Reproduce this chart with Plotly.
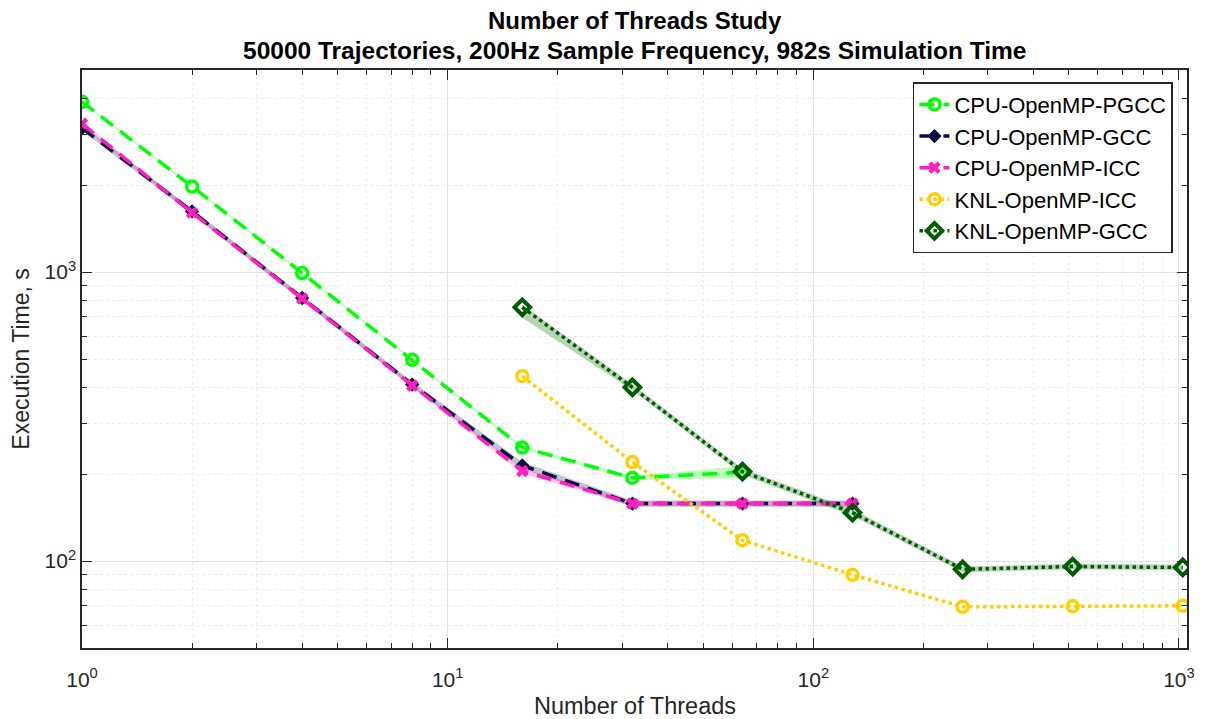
import plotly.graph_objects as go

threads_cpu = [1, 2, 4, 8, 16, 32, 64, 128]
threads_pgcc = [1, 2, 4, 8, 16, 32, 64]
threads_knl = [16, 32, 64, 128, 256, 512, 1024]

pgcc = [3880, 1975, 992, 497, 247, 194, 203]
pgcc_lo = [3850, 1955, 982, 492, 244, 191, 193]
pgcc_hi = [3910, 1995, 1002, 502, 250, 197, 213]

gcc = [3150, 1620, 813, 408, 214, 158, 158, 158]
gcc_lo = [3080, 1585, 795, 399, 208, 154, 154, 154]
gcc_hi = [3220, 1655, 831, 417, 220, 162, 162, 162]

icc = [3260, 1605, 810, 405, 205, 158, 158, 158]
icc_lo = [3200, 1580, 797, 399, 201, 155, 155, 155]
icc_hi = [3320, 1630, 823, 411, 209, 161, 161, 161]

knl_icc = [436, 220, 118, 89.6, 69.4, 69.7, 70]

knl_gcc = [755, 399, 204, 147, 93.6, 95.7, 95]
knl_gcc_lo = [695, 390, 199, 143, 91.5, 93.6, 93]
knl_gcc_hi = [770, 409, 209, 151, 95.7, 97.8, 97]

y_tickvals = [100, 1000]
y_ticktext = ["10<sup>2</sup>", "10<sup>3</sup>"]
x_tickvals = [1, 10, 100, 1000]
x_ticktext = ["10<sup>0</sup>", "10<sup>1</sup>", "10<sup>2</sup>", "10<sup>3</sup>"]

title_lines = ["Number of Threads Study",
               "50000 Trajectories, 200Hz Sample Frequency, 982s Simulation Time"]
x_title = "Number of Threads"
y_title = "Execution Time, s"

C_PGCC = "#00ff00"
C_GCC = "#0b0b40"
C_ICC = "#ff1fc0"
C_KICC = "#ffd000"
C_KGCC = "#005c00"

fig = go.Figure()


def band(x, lo, hi, color):
    fig.add_trace(go.Scatter(x=list(x) + list(x)[::-1], y=list(hi) + list(lo)[::-1],
                             fill="toself", fillcolor=color, line=dict(width=0),
                             mode="lines", showlegend=False, hoverinfo="skip"))


band(threads_pgcc, pgcc_lo, pgcc_hi, "rgba(0,255,0,0.25)")
band(threads_cpu, gcc_lo, gcc_hi, "rgba(40,40,90,0.28)")
band(threads_cpu, icc_lo, icc_hi, "rgba(255,31,192,0.25)")
band(threads_knl, knl_gcc_lo, knl_gcc_hi, "rgba(0,100,0,0.28)")

DASH = "15px,9px"
fig.add_trace(go.Scatter(x=threads_pgcc, y=pgcc, name="CPU-OpenMP-PGCC", mode="lines+markers",
                         line=dict(color=C_PGCC, width=3.5, dash=DASH),
                         marker=dict(symbol="circle-open", size=11, color=C_PGCC, line=dict(width=3.5))))
fig.add_trace(go.Scatter(x=threads_cpu, y=gcc, name="CPU-OpenMP-GCC", mode="lines+markers",
                         line=dict(color=C_GCC, width=3.5, dash=DASH),
                         marker=dict(symbol="diamond", size=11, color=C_GCC)))
fig.add_trace(go.Scatter(x=threads_cpu, y=icc, name="CPU-OpenMP-ICC", mode="lines+markers",
                         line=dict(color=C_ICC, width=3.5, dash=DASH),
                         marker=dict(symbol="x", size=11, color=C_ICC)))
fig.add_trace(go.Scatter(x=threads_knl, y=knl_icc, name="KNL-OpenMP-ICC", mode="lines+markers",
                         line=dict(color=C_KICC, width=3.5, dash="dot"),
                         marker=dict(symbol="circle-open", size=11, color=C_KICC, line=dict(width=3.5))))
fig.add_trace(go.Scatter(x=threads_knl, y=knl_gcc, name="KNL-OpenMP-GCC", mode="lines+markers",
                         line=dict(color=C_KGCC, width=3.5, dash="dot"),
                         marker=dict(symbol="diamond-open", size=12, color=C_KGCC, line=dict(width=4))))

font = "Liberation Sans, Arial, sans-serif"
axis_common = dict(
    type="log", showline=True, linecolor="#262626", linewidth=1.5, mirror="ticks",
    ticks="inside", ticklen=10, tickwidth=1, tickcolor="#262626",
    showgrid=True, gridcolor="#e3e3e3", gridwidth=1, zeroline=False,
    tickfont=dict(size=21, color="#262626", family=font),
    minor=dict(ticks="inside", ticklen=5, tickcolor="#262626", showgrid=True,
               gridcolor="#ececec", griddash="dot", dtick="D1"),
)

annotations = [
    dict(text="<b>%s</b>" % title_lines[0], x=0.5, y=1.0865, xref="paper", yref="paper",
         xanchor="center", yanchor="middle", showarrow=False,
         font=dict(size=24, color="black", family=font)),
    dict(text="<b>%s</b>" % title_lines[1], x=0.5, y=1.0346, xref="paper", yref="paper",
         xanchor="center", yanchor="middle", showarrow=False,
         font=dict(size=24.5, color="black", family=font)),
    dict(text=x_title, x=0.5, y=-0.1, xref="paper", yref="paper",
         xanchor="center", yanchor="middle", showarrow=False,
         font=dict(size=23.5, color="#262626", family=font)),
    dict(text=y_title, x=-0.0555, y=0.5, xref="paper", yref="paper", textangle=-90,
         xanchor="center", yanchor="middle", showarrow=False,
         font=dict(size=23, color="#262626", family=font)),
]

fig.update_layout(
    width=1200, height=711,
    paper_bgcolor="white", plot_bgcolor="white",
    margin=dict(l=74, r=21, t=62, b=71),
    font=dict(family=font, color="#262626"),
    xaxis=dict(axis_common, range=[0, 3.022], tickvals=x_tickvals, ticktext=x_ticktext,
               ticklabelstandoff=12),
    yaxis=dict(axis_common, range=[1.699, 3.699], tickvals=y_tickvals, ticktext=y_ticktext),
    annotations=annotations,
    legend=dict(x=0.9873, xanchor="right", y=0.979, yanchor="top",
                bgcolor="white", bordercolor="#262626", borderwidth=1.5,
                font=dict(size=22, color="black", family=font),
                tracegroupgap=0, itemwidth=30),
    showlegend=True,
)

fig.write_html("out.html")
